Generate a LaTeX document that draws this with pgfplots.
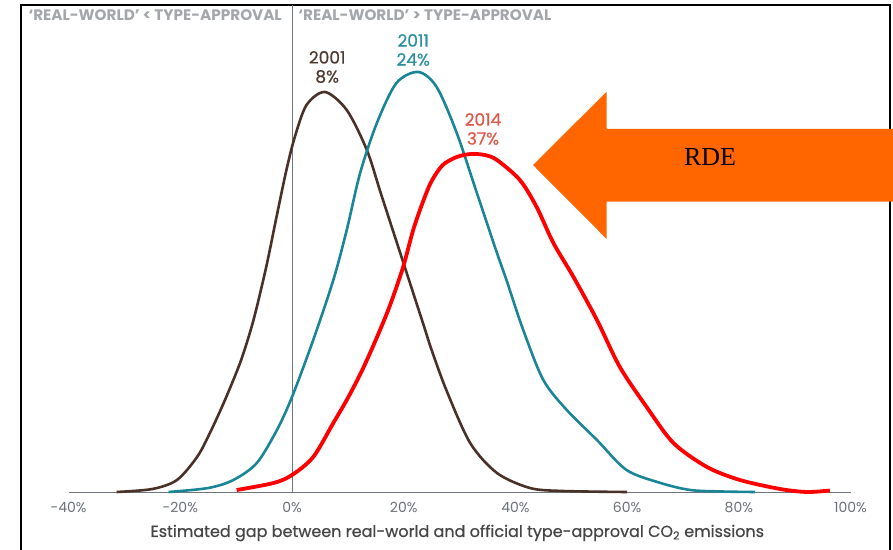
\documentclass[border=0pt]{standalone}
\usepackage{pgfplots}
\pgfplotsset{compat=1.18}
\usepackage{fontspec}
\setmainfont{Liberation Serif}
\newfontfamily\pop{Poppins}
\newfontfamily\popmed[FakeBold=0.6]{Poppins}
\definecolor{cbrown}{HTML}{4A3127}
\definecolor{cteal}{HTML}{1A8596}
\definecolor{cred}{HTML}{FF0000}
\definecolor{lbrown}{HTML}{4F3A30}
\definecolor{lteal}{HTML}{2A8FA0}
\definecolor{lred}{HTML}{E0584A}
\definecolor{tickgray}{HTML}{6B7078}
\definecolor{axisgray}{HTML}{70757C}
\definecolor{topgray}{HTML}{A3A6AA}
\definecolor{labgray}{HTML}{454545}
\definecolor{rdeorange}{HTML}{FF6600}
\begin{document}
\begin{tikzpicture}[x=1pt,y=1pt]
\path[use as bounding box] (0,0) rectangle (893,549);
\draw[line width=1.8pt] (21,-10) -- (21,544) -- (890,544) -- (890,-10);
\begin{axis}[
  at={(68.6pt,57pt)}, anchor=south west,
  scale only axis, width=781.9pt, height=487pt,
  xmin=-40, xmax=100, ymin=0, ymax=487,
  axis x line*=bottom, axis y line=none,
  x axis line style={draw=axisgray, line width=0.9pt, -},
  xtick={-40,-20,0,20,40,60,80,100},
  xticklabels={-40\%,-20\%,0\%,20\%,40\%,60\%,80\%,100\%},
  major tick length=0pt,
  tick label style={font=\pop\fontsize{14}{15}\selectfont, text=tickgray},
  xticklabel style={yshift=-7pt},
  clip=false,
]
\draw[axisgray, line width=0.8pt] (axis cs:0,0) -- (axis cs:0,487);
\addplot[cbrown, line width=2.6pt, smooth] coordinates {
(-31.4,0) (-25,3) (-20.6,12) (-17,35) (-14.7,59) (-12,92) (-9.3,129) (-7.5,160) (-6.3,185) (-4.5,228) (-2.7,277) (-1.0,322) (0.5,355) (2.6,387) (5.9,400) (9.8,382) (13.4,342) (16.0,297) (19.9,230) (23.5,168) (25.0,142) (27.7,101) (31.9,49) (36.7,19) (42.6,4) (48.5,1) (60,0)
};
\addplot[cteal, line width=2.6pt, smooth] coordinates {
(-22.1,0) (-15,4) (-10.5,12) (-6.3,29) (-2.7,62) (0,95) (3.8,152) (7.4,212) (9.8,262) (12.2,319) (15.2,369) (18.7,409) (22.6,420) (25.9,405) (29.5,359) (33.1,299) (36.7,239) (38.4,212) (41.4,162) (45.0,112) (49.2,82) (54.6,52) (59.9,22) (66,9) (71.3,2) (77,0.5) (82.9,0)
};
\addplot[cred, line width=3.8pt, smooth] coordinates {
(-9.9,2) (-3.3,9) (0,17) (3.8,35) (7.4,69) (10,94) (12.5,121) (15,152) (17.5,186) (19.9,225) (21.7,262) (23.5,291) (25,311) (27,327) (29.5,335) (32,338) (34.5,337) (36.7,332) (40.8,312) (43.8,285) (46.8,249) (50.4,215) (54.6,172) (58.7,125) (63.5,85) (68.3,49) (74.3,25) (80.2,12) (87.4,3) (92.2,0) (96.3,1.5)
};
\node[anchor=east, font=\pop\bfseries\fontsize{15.2}{16}\selectfont, text=topgray, inner sep=0pt] at (axis cs:-1.8,477) {‘REAL-WORLD’ < TYPE-APPROVAL};
\node[anchor=west, font=\pop\bfseries\fontsize{15.2}{16}\selectfont, text=topgray, inner sep=0pt] at (axis cs:1.1,477) {‘REAL-WORLD’ > TYPE-APPROVAL};
\node[align=center, font=\popmed\fontsize{17}{19}\selectfont, text=lbrown, inner sep=0pt] at (axis cs:6.3,425) {2001\\8\%};
\node[align=center, font=\popmed\fontsize{17}{19}\selectfont, text=lteal, inner sep=0pt] at (axis cs:21.7,442) {2011\\24\%};
\node[align=center, font=\popmed\fontsize{17}{19}\selectfont, text=lred, inner sep=0pt] at (axis cs:34.2,363) {2014\\37\%};
\node[font=\popmed\fontsize{16}{17}\selectfont, text=labgray, inner sep=0pt] at (axis cs:29.6,-41) {Estimated gap between real-world and official type-approval CO\textsubscript{2} emissions};
\end{axis}
\fill[rdeorange] (533,384) -- (606.7,457.3) -- (606.7,420) -- (893,420) -- (893,347.3) -- (606.7,347.3) -- (606.7,310) -- cycle;
\node[font=\fontsize{26}{28}\selectfont, text=black] at (710,392.3) {RDE};
\end{tikzpicture}
\end{document}
